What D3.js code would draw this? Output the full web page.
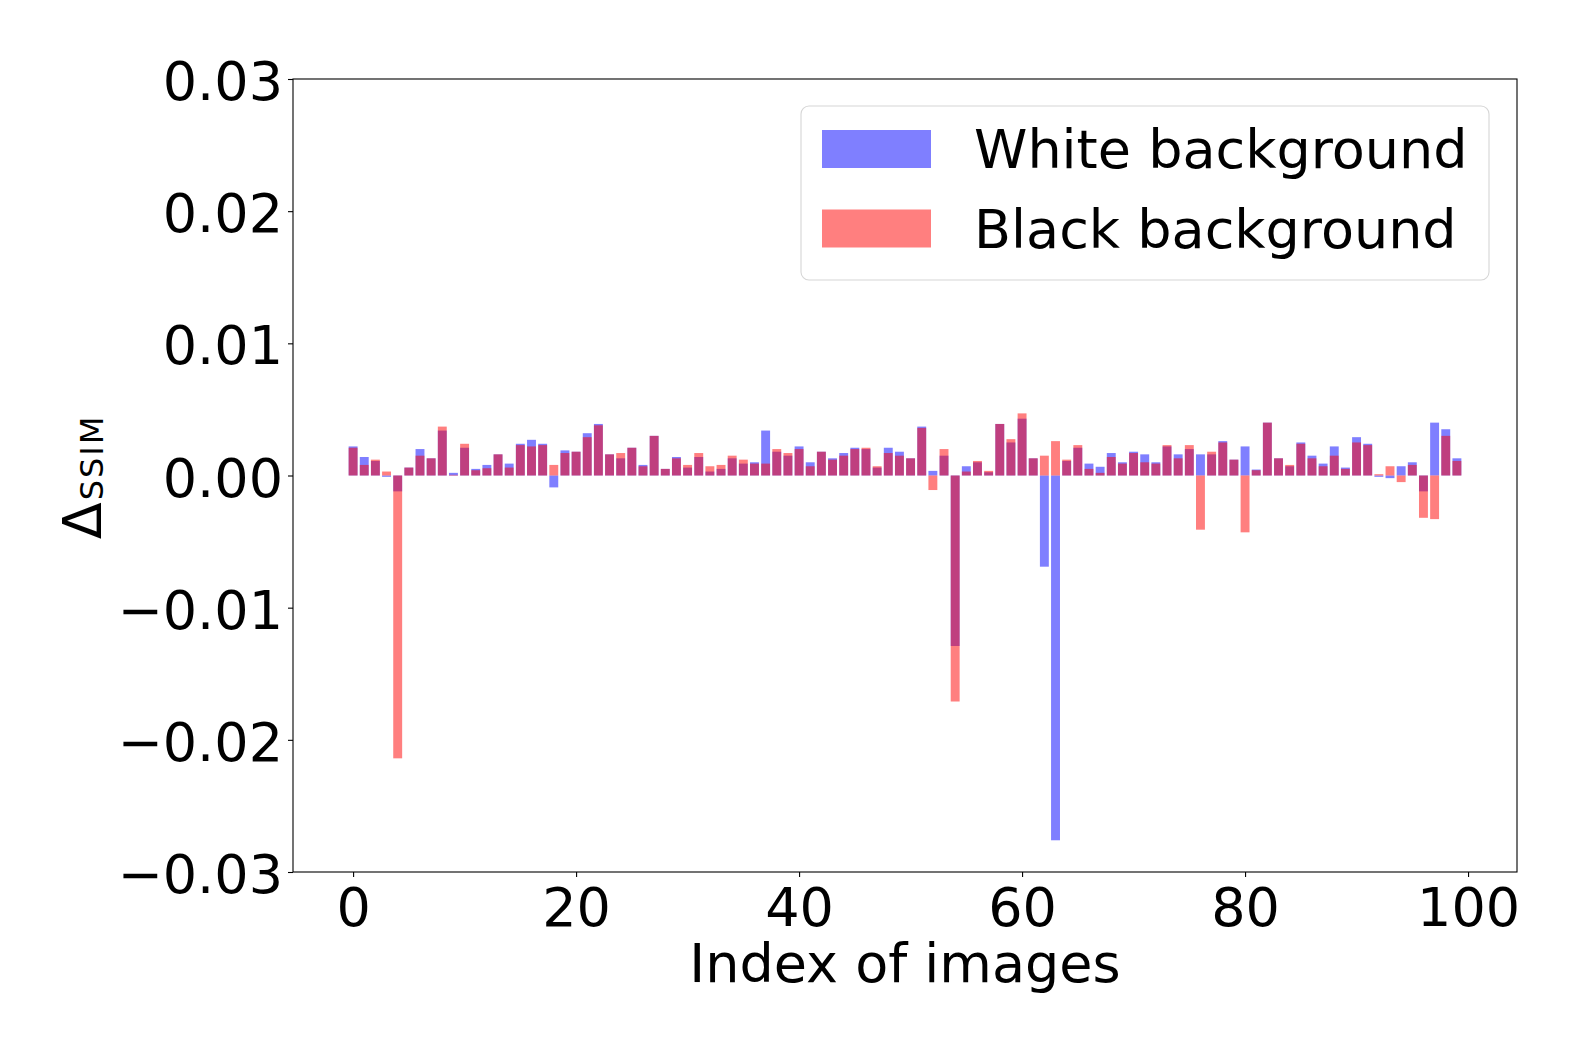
<!doctype html>
<html lang="en">
  <head>
    <meta charset="utf-8">
    <title>Delta SSIM per image</title>
    <style>
      body { margin: 0; background: #fff; }
      svg { display: block; font-family: "DejaVu Sans", sans-serif; }
    </style>
  </head>
  <body>
    <script src="https://cdn.jsdelivr.net/npm/d3@7"></script>
    <script>

    // index of each image
    const indices = d3.range(100);

    // delta SSIM, white background
    const whiteBg = [
      0.0022, 0.0014, 0.0011, -0.0001, -0.0012, 0.0006, 0.0020, 0.0013, 0.0034, 0.0002,
      0.0021, 0.0005, 0.0008, 0.0016, 0.0009, 0.0024, 0.0027, 0.0024, -0.0009, 0.0019,
      0.0018, 0.0032, 0.0039, 0.0016, 0.0013, 0.0021, 0.0008, 0.0030, 0.0005, 0.0014,
      0.0006, 0.0014, 0.0003, 0.0005, 0.0013, 0.0009, 0.0010, 0.0034, 0.0018, 0.0015,
      0.0022, 0.0010, 0.0018, 0.0013, 0.0017, 0.0021, 0.0020, 0.0006, 0.0021, 0.0018,
      0.0013, 0.0037, 0.00035, 0.0015, -0.0129, 0.0007, 0.0010, 0.00025, 0.0039, 0.0025,
      0.0043, 0.0013, -0.0069, -0.0276, 0.0011, 0.0021, 0.0009, 0.00066, 0.0017, 0.0010,
      0.0018, 0.0016, 0.0010, 0.0022, 0.0016, 0.0020, 0.0016, 0.0016, 0.0026, 0.0012,
      0.0022, 0.00045, 0.0040, 0.0013, 0.0007, 0.0025, 0.0015, 0.0009, 0.0022, 0.0006,
      0.0029, 0.0024, -0.0001, -0.0002, 0.0007, 0.0010, -0.0012, 0.0040, 0.0035, 0.0013
    ];

    // delta SSIM, black background
    const blackBg = [
      0.0021, 0.0008, 0.0012, 0.0003, -0.0214, 0.0006, 0.0015, 0.0013, 0.0037, 0.00005,
      0.0024, 0.0004, 0.00055, 0.0016, 0.0006, 0.0023, 0.0022, 0.0023, 0.0008, 0.0017,
      0.0018, 0.0029, 0.0038, 0.0016, 0.0017, 0.0021, 0.0007, 0.0030, 0.0005, 0.0013,
      0.0008, 0.0017, 0.0007, 0.0008, 0.0015, 0.0012, 0.0009, 0.0009, 0.0020, 0.0017,
      0.0020, 0.0007, 0.0018, 0.0012, 0.0015, 0.0020, 0.0021, 0.0007, 0.0017, 0.0015,
      0.0013, 0.0036, -0.0011, 0.0020, -0.0171, 0.0003, 0.0011, 0.00035, 0.0039, 0.00275,
      0.0047, 0.0013, 0.0015, 0.0026, 0.0012, 0.0023, 0.0005, 0.0002, 0.0014, 0.0009,
      0.0017, 0.0010, 0.0009, 0.0023, 0.0013, 0.0023, -0.0041, 0.0018, 0.0025, 0.0012,
      -0.0043, 0.0004, 0.0040, 0.0013, 0.0008, 0.0024, 0.0013, 0.0007, 0.0015, 0.0005,
      0.0025, 0.0023, 0.0001, 0.0007, -0.0005, 0.0008, -0.0032, -0.0033, 0.0030, 0.0011
    ];

    const yTicks = [-0.03, -0.02, -0.01, 0, 0.01, 0.02, 0.03];
    const xTicks = [0, 20, 40, 60, 80, 100];
    const seriesNames = ["White background", "Black background"];
    const seriesColors = ["#0000ff", "#ff0000"];

    const width = 1578, height = 1052;
    const plot = {left: 293, right: 1517, top: 79, bottom: 872};
    const fontSize = 54;

    const svg = d3.select("body").append("svg")
        .attr("width", width)
        .attr("height", height);

    // matplotlib-style 5% margins around bars of width 0.8
    const barW = 0.8;
    const lo = -barW / 2, hi = 99 + barW / 2, pad = (hi - lo) * 0.05;

    const x = d3.scaleLinear()
        .domain([lo - pad, hi + pad])
        .range([plot.left, plot.right]);

    const y = d3.scaleLinear()
        .domain([-0.03, 0.03])
        .range([plot.bottom, plot.top]);

    const minus = s => s.replace("-", "\u2212");

    //bars, white first then black on top
    [whiteBg, blackBg].forEach(function(values, k){
      svg.append("g")
        .selectAll("rect")
        .data(indices)
        .join("rect")
        .attr("x", i => x(i - barW / 2))
        .attr("width", i => x(barW) - x(0))
        .attr("y", i => y(Math.max(0, values[i])))
        .attr("height", i => Math.abs(y(values[i]) - y(0)))
        .attr("fill", seriesColors[k])
        .attr("fill-opacity", 0.5);
    });

    // axes
    const yAxis = svg.append("g")
        .attr("transform", `translate(${plot.left},0)`)
        .call(d3.axisLeft(y).tickValues(yTicks).tickSize(5).tickPadding(5)
          .tickFormat(d => minus(d3.format(".2f")(d))));

    const xAxis = svg.append("g")
        .attr("transform", `translate(0,${plot.bottom})`)
        .call(d3.axisBottom(x).tickValues(xTicks).tickSize(5).tickPadding(10)
          .tickFormat(d3.format("d")));

    [xAxis, yAxis].forEach(function(a){
      a.select(".domain").remove();
      a.selectAll("line").attr("stroke", "#000").attr("stroke-width", 1.1);
      a.selectAll("text")
        .attr("fill", "#000")
        .style("font-family", "'DejaVu Sans', sans-serif")
        .style("font-size", fontSize + "px");
    });
    yAxis.selectAll("text").attr("dy", "0.38em");
    xAxis.selectAll("text").attr("dy", "0.73em");

    // frame
    svg.append("rect")
        .attr("x", plot.left)
        .attr("y", plot.top)
        .attr("width", plot.right - plot.left)
        .attr("height", plot.bottom - plot.top)
        .attr("fill", "none")
        .attr("stroke", "#000")
        .attr("stroke-width", 1.1);

    // axis labels
    svg.append("text")
        .attr("x", (plot.left + plot.right) / 2)
        .attr("y", 981.5)
        .attr("text-anchor", "middle")
        .style("font-size", fontSize + "px")
        .text("Index of images");

    const yLabel = svg.append("text")
        .attr("transform", "translate(101,477) rotate(-90)")
        .attr("text-anchor", "middle")
        .style("font-size", fontSize + "px");
    yLabel.append("tspan").text("\u0394");
    yLabel.append("tspan")
        .attr("dy", 2)
        .attr("dx", 2)
        .style("font-size", "32px")
        .style("letter-spacing", "2px")
        .text("SSIM");

    // legend
    const legend = svg.append("g");

    legend.append("rect")
        .attr("x", 801)
        .attr("y", 106)
        .attr("width", 688)
        .attr("height", 174)
        .attr("rx", 8)
        .attr("fill", "#fff")
        .attr("fill-opacity", 0.8)
        .attr("stroke", "#d6d6d6")
        .attr("stroke-width", 1.1);

    seriesNames.forEach(function(name, k){
      const row = legend.append("g")
          .attr("transform", `translate(0,${k * 79.5})`);
      row.append("rect")
          .attr("x", 822)
          .attr("y", 130)
          .attr("width", 109)
          .attr("height", 38)
          .attr("fill", seriesColors[k])
          .attr("fill-opacity", 0.5);
      row.append("text")
          .attr("x", 974)
          .attr("y", 168)
          .style("font-size", "54px")
          .text(name);
    });

    </script>
  </body>
</html>
